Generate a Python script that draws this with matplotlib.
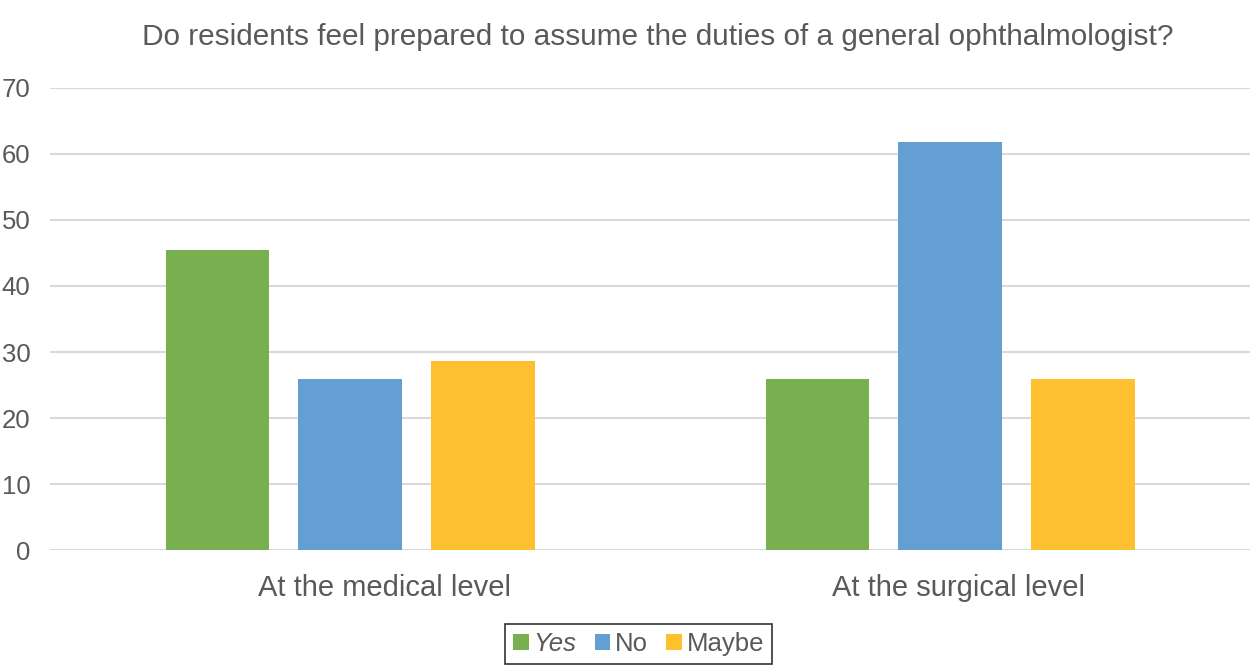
import matplotlib
matplotlib.use("Agg")
import matplotlib.pyplot as plt
import matplotlib.transforms as mtransforms
import numpy as np
from matplotlib.patches import Patch

categories = ["At the medical level", "At the surgical level"]
series_names = ["Yes", "No", "Maybe"]
yes_vals = [45.4, 25.9]
no_vals = [25.9, 61.8]
maybe_vals = [28.6, 25.9]
colors = ["#78AF4F", "#649FD4", "#FDC02F"]
yticks = [0, 10, 20, 30, 40, 50, 60, 70]

plt.rcParams['font.family'] = ['Liberation Sans', 'DejaVu Sans']
fig = plt.figure(figsize=(12.5, 6.65), dpi=100)
ax = fig.add_axes([0.04, 0.1729, 0.96, 0.6948])

x = np.arange(len(categories))
offsets = [-0.221, 0.0, 0.221]
width = 0.173
for vals, off, c in zip([yes_vals, no_vals, maybe_vals], offsets, colors):
    ax.bar(x + off, vals, width=width, color=c, zorder=3)

ax.set_xlim(-0.5, 1.5)
ax.set_ylim(0, 70)
ax.set_yticks(yticks)
ax.set_yticklabels([str(t) for t in yticks])
ax.set_xticks(x)
ax.set_xticklabels(categories)
ax.tick_params(axis='both', length=0, colors='#595959')
ax.tick_params(axis='y', labelsize=18.5, pad=14)
ax.tick_params(axis='x', labelsize=21, pad=17)
ax.grid(axis='y', color='#d9d9d9', linewidth=1.5, zorder=0)
for s in ax.spines.values():
    s.set_visible(False)

# small horizontal shifts of category labels as in the reference
for lbl, dx in zip(ax.get_xticklabels(), [34, 8]):
    lbl.set_transform(lbl.get_transform() +
                      mtransforms.ScaledTranslation(dx / 100, 0, fig.dpi_scale_trans))

fig.text(0.526, 0.944, "Do residents feel prepared to assume the duties of a general ophthalmologist?",
         ha='center', va='center', fontsize=21.4, color='#595959')

handles = [Patch(facecolor=c, edgecolor='none') for c in colors]
leg = fig.legend(handles, series_names, loc='center', bbox_to_anchor=(0.511, 0.0315),
                 ncol=3, fontsize=18.5, frameon=True, fancybox=False, edgecolor='#000000',
                 handlelength=0.6, handleheight=0.6, handletextpad=0.2, columnspacing=0.7,
                 borderpad=0.3, borderaxespad=0.0, labelcolor='#595959')
leg.get_frame().set_linewidth(1.2)
leg.get_texts()[0].set_fontstyle('italic')

fig.savefig("out.png", dpi=100)
